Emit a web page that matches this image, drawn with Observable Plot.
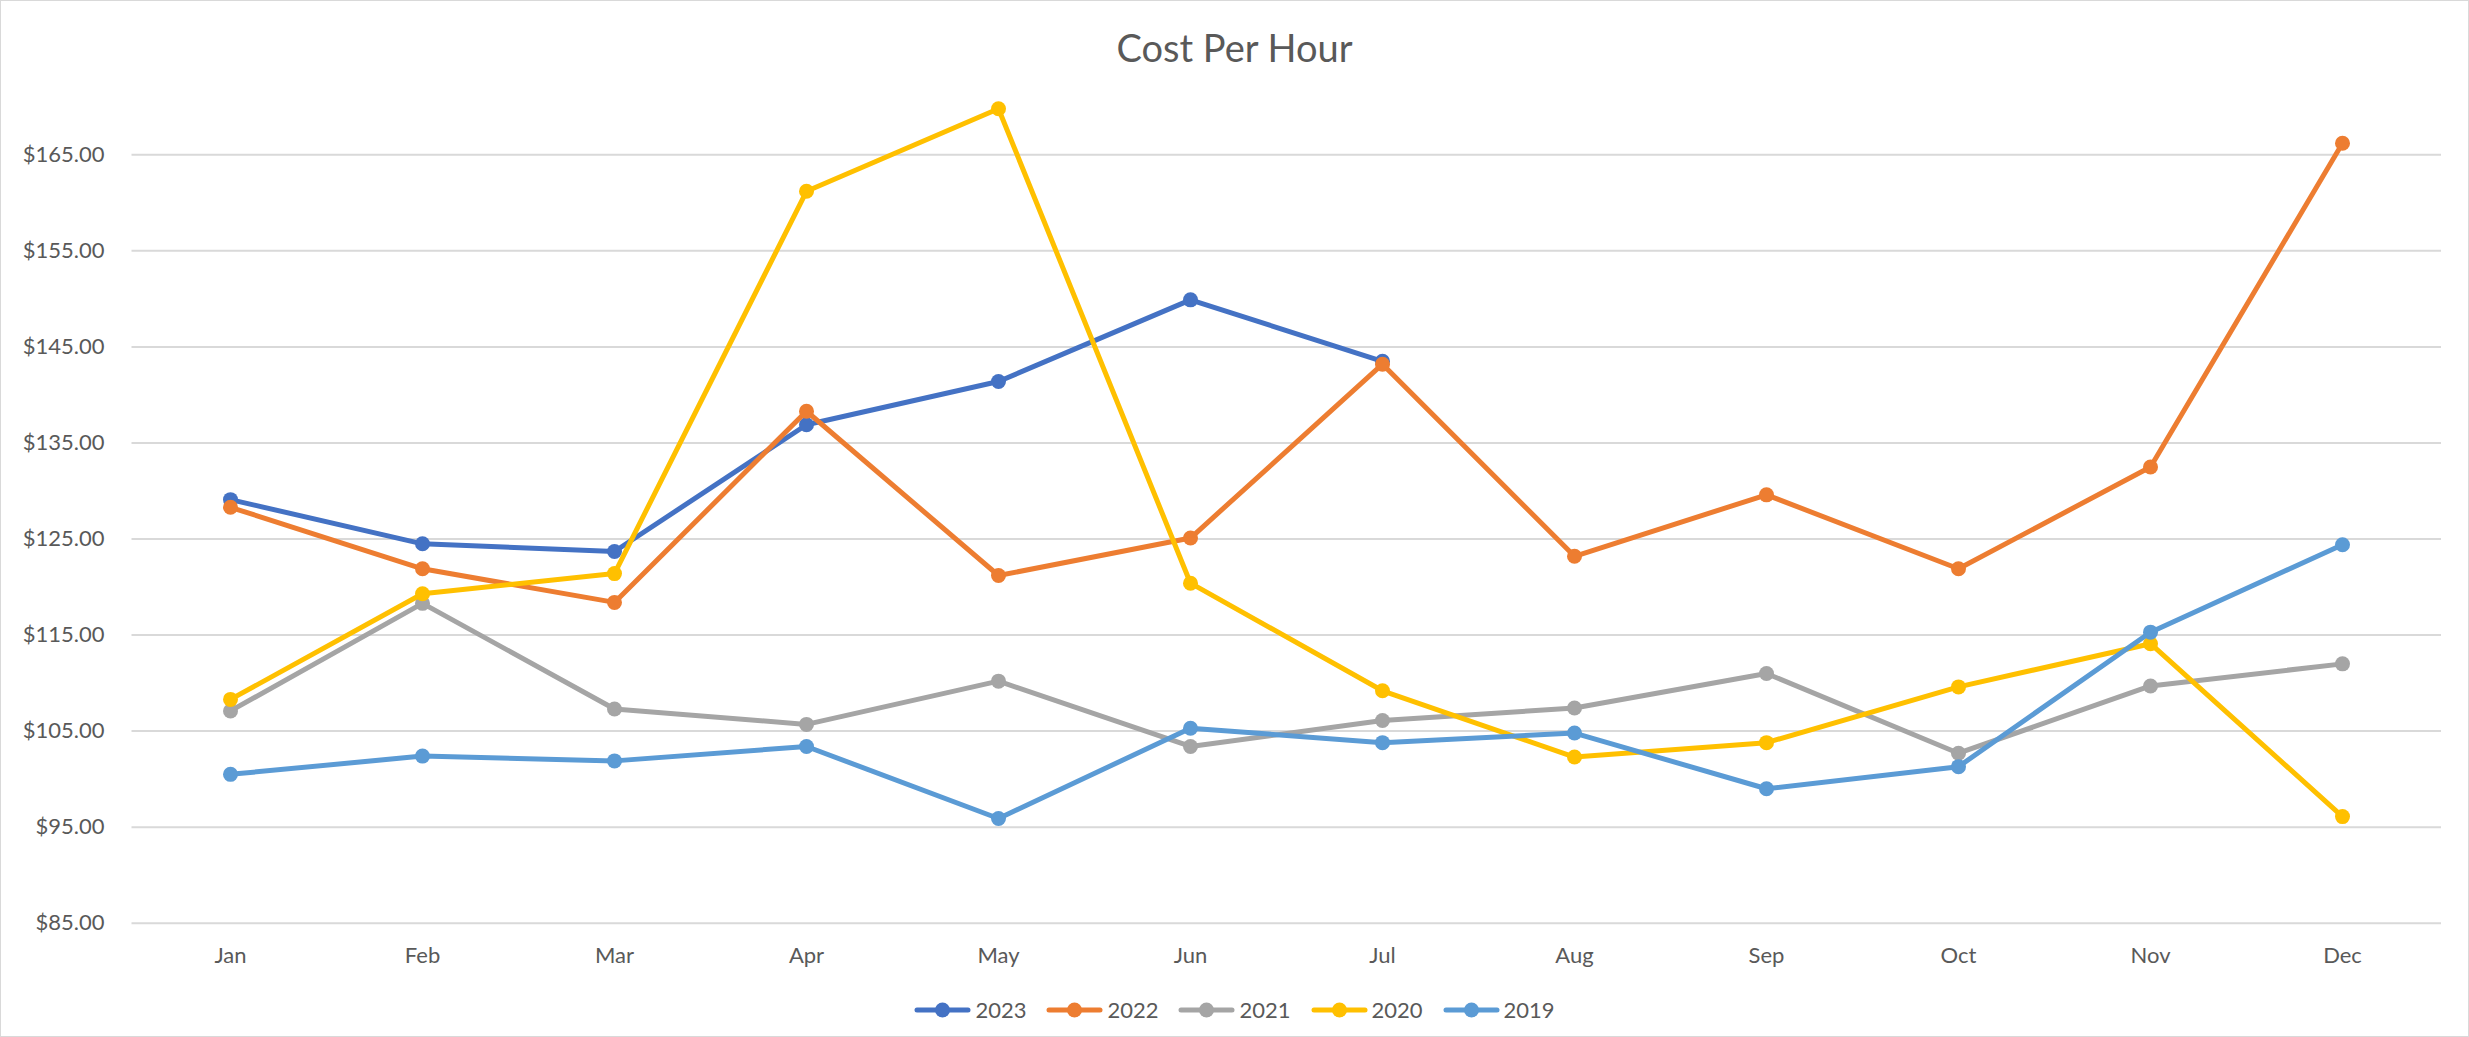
<!DOCTYPE html>
<html>
<head>
<meta charset="utf-8">
<script src="https://cdn.jsdelivr.net/npm/d3@7"></script>
<script src="https://cdn.jsdelivr.net/npm/@observablehq/plot@0.6"></script>
<style>
  html, body { margin: 0; padding: 0; background: #fff; }
  #chart {
    width: 2469px; height: 1037px; box-sizing: border-box;
    border: 1px solid #d9d9d9; background: #fff; overflow: hidden;
    font-family: Lato, "Open Sans", sans-serif; color: #595959;
  }
  #title {
    height: 97px; line-height: 93px; text-align: center;
    font-size: 38px; color: #595959;
  }
  #legend {
    height: 53px; display: flex; justify-content: center; align-items: center;
    font-size: 22px; color: #595959;
  }
  .item { display: flex; align-items: center; margin: 0 10px; }
  .item svg { margin-right: 4px; }
</style>
</head>
<body>
<div id="chart">
  <div id="title">Cost Per Hour</div>
  <div id="plot"></div>
  <div id="legend"></div>
</div>
<script>
const months = ["Jan","Feb","Mar","Apr","May","Jun","Jul","Aug","Sep","Oct","Nov","Dec"];
const series = ["2023","2022","2021","2020","2019"];
const v2023 = [129.1,124.5,123.7,136.9,141.4,149.9,143.5];
const v2022 = [128.3,121.9,118.4,138.3,121.2,125.1,143.2,123.2,129.6,121.9,132.5,166.2];
const v2021 = [107.1,118.3,107.3,105.7,110.2,103.4,106.1,107.4,111.0,102.7,109.7,112.0];
const v2020 = [108.3,119.3,121.4,161.2,169.8,120.4,109.2,102.3,103.8,109.6,114.1,96.1];
const v2019 = [100.5,102.4,101.9,103.4,95.9,105.3,103.8,104.8,99.0,101.3,115.3,124.4];
const yTicks = [85,95,105,115,125,135,145,155,165];

const colors = ["#4472C4","#ED7D31","#A5A5A5","#FFC000","#5B9BD5"];
const values = [v2023, v2022, v2021, v2020, v2019];
const data = series.flatMap((s, i) => values[i].map((v, j) => ({series: s, month: months[j], value: v})));

const seriesMarks = series.flatMap(s => {
  const d = data.filter(r => r.series === s);
  return [
    Plot.line(d, {x: "month", y: "value", stroke: "series", strokeWidth: 5, strokeLinejoin: "round", strokeLinecap: "round"}),
    Plot.dot(d, {x: "month", y: "value", fill: "series", r: 7.5, stroke: null})
  ];
});

const chart = Plot.plot({
  width: 2467,
  height: 885,
  marginLeft: 130.5,
  marginRight: 27,
  marginTop: 8.3,
  marginBottom: 60.3,
  style: {fontFamily: "Lato, 'Open Sans', sans-serif", fontSize: "22px", color: "#595959", background: "#fff"},
  x: {type: "point", domain: months, padding: 0.5},
  y: {domain: [85, 170]},
  color: {domain: series, range: colors},
  marks: [
    Plot.gridY(yTicks, {stroke: "#d9d9d9", strokeOpacity: 1, strokeWidth: 2}),
    Plot.axisY(yTicks, {tickSize: 0, tickPadding: 27.5, tickFormat: d => "$" + d.toFixed(2), label: null, fill: "#595959"}),
    Plot.axisX({tickSize: 0, tickPadding: 24, label: null, fill: "#595959"}),
    ...seriesMarks
  ]
});
document.getElementById("plot").appendChild(chart);

const legend = d3.select("#legend");
series.forEach((s, i) => {
  const item = legend.append("div").attr("class", "item");
  const svg = item.append("svg").attr("width", 57).attr("height", 18);
  svg.append("line").attr("x1", 3).attr("x2", 54).attr("y1", 9).attr("y2", 9)
    .attr("stroke", colors[i]).attr("stroke-width", 5).attr("stroke-linecap", "round");
  svg.append("circle").attr("cx", 28.5).attr("cy", 9).attr("r", 7.5).attr("fill", colors[i]);
  item.append("span").text(s);
});
</script>
</body>
</html>
